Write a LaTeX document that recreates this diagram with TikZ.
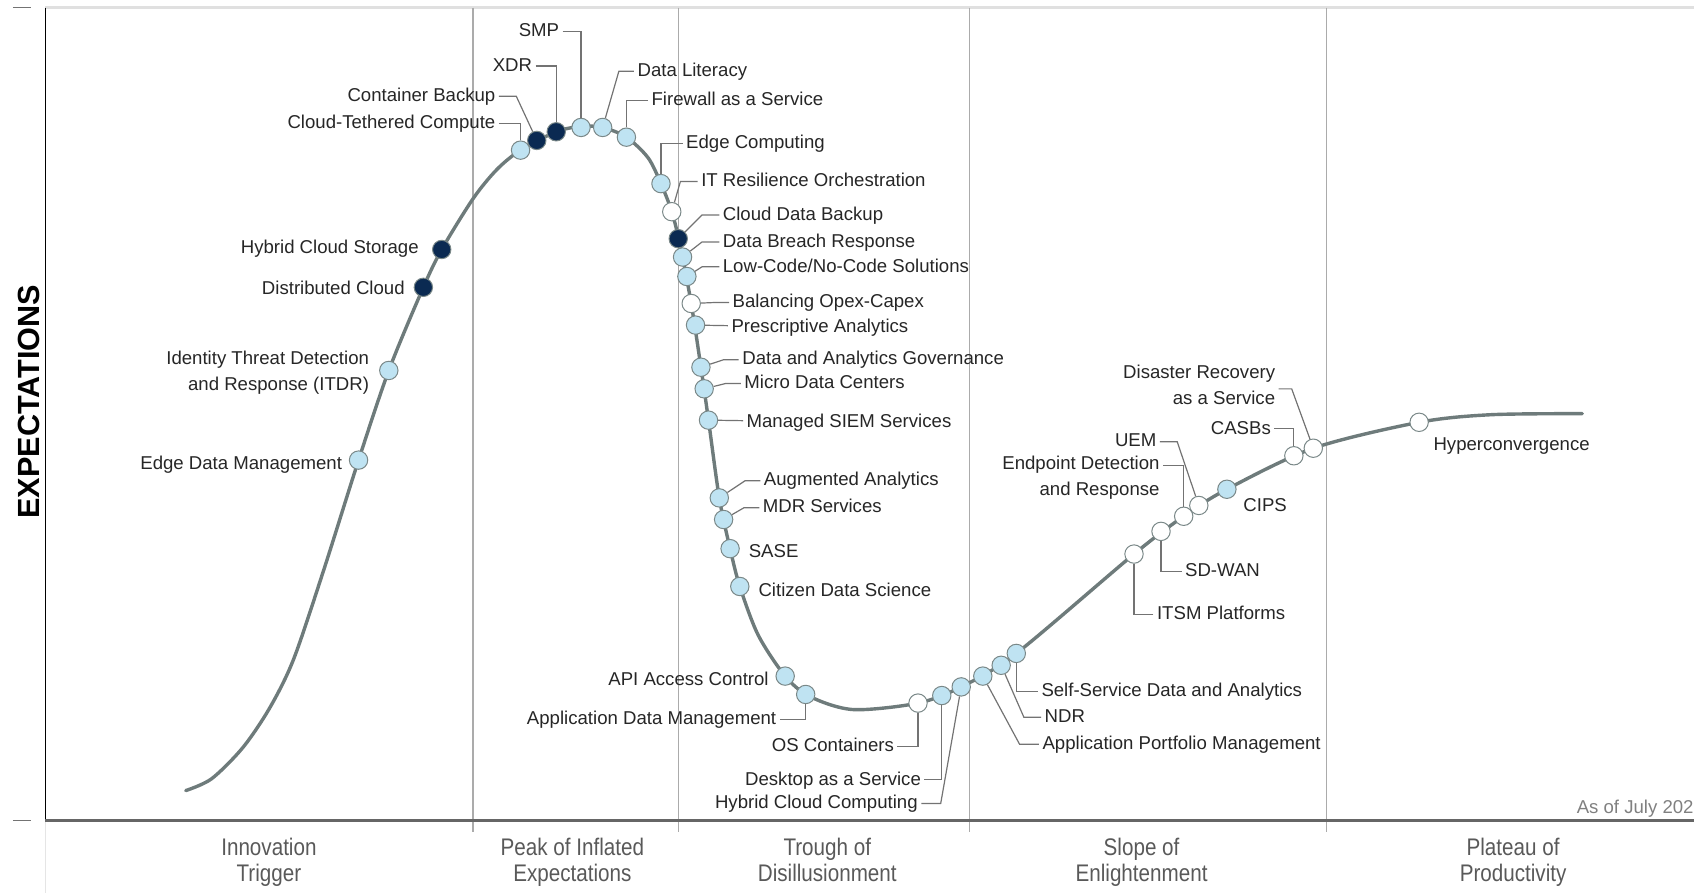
\documentclass[tikz,border=0pt]{standalone}
\usepackage{fontspec}
\setmainfont{Liberation Sans}
\newfontfamily\phasefont{Liberation Sans}[FakeStretch=0.86]
\usepackage{tikz}

\definecolor{hypegray}{HTML}{6E7B7B}
\definecolor{dotblue}{HTML}{BFE3F2}
\definecolor{dotnavy}{HTML}{0B2A52}
\definecolor{rimgray}{HTML}{7A8888}
\definecolor{sepgray}{HTML}{ABABAB}
\definecolor{txtgray}{HTML}{595959}

\tikzset{
  hype/.style={hypegray,line width=1.7pt,line cap=round},
  dot/.style={circle,draw=rimgray,line width=0.5pt,minimum size=9.2pt,inner sep=0pt},
  lbl/.style={inner sep=1.6pt,align=right,text=black!85,yshift=-1.1pt,
    font=\fontsize{9.3}{13}\selectfont,
    execute at begin node=\strut,execute at end node=\strut},
  leader/.style={gray!90!black,line width=0.6pt},
  phase/.style={align=center,text=txtgray,font=\phasefont\fontsize{12}{13}\selectfont,
    execute at begin node=\strut,execute at end node=\strut},
  sep/.style={sepgray,line width=0.6pt}
}

\begin{document}
\begin{tikzpicture}[x=0.54pt,y=-0.54pt]

\useasboundingbox (0,0) rectangle (1568.5,827);

% Frame, axes and phase separators
\draw [black!12,line width=1.1pt] (42,7) -- (1568.5,7);
\draw [black!55,line width=0.6pt] (12,7) -- (29,7);
\draw [black!55,line width=0.6pt] (12,760) -- (29,760);
\draw [black!10,line width=0.6pt] (42,760) -- (42,827);
\foreach \sx in {438,628,898,1228} {
  \draw [sep] (\sx,7) -- (\sx,770);
}
\draw [black,line width=0.6pt] (42,7) -- (42,760);
\draw [black!60,line width=1.4pt] (42,760) -- (1568.5,760);

\node [rotate=90,font=\bfseries\fontsize{15.3}{17}\selectfont] (yaxis) at (27,372) {EXPECTATIONS};
\node [anchor=east,inner sep=0pt,text=black!50,font=\fontsize{9.3}{13}\selectfont,
  execute at begin node=\strut] (asof) at (1568.5,748) {As of July 202};

% The hype curve
\draw [hype] plot [smooth,tension=0.5] coordinates {
  (172,732) (196,721) (225,692) (250,655) (272,610) (300,527)
  (332,426) (360,343) (392,266) (409,231) (438,184) (460,157) (482,139)
  (515,122) (538,117) (558,118) (580,127) (600,146) (612,170) (622,196)
  (630,228) (640,281) (649,340) (656,389) (666,461) (676,508) (685,543)
  (702,588) (727,626) (750,645) (790,657) (850,651) (890,636) (941,605)
  (1050,513) (1096,478) (1136,453) (1216,415) (1314,391) (1380,384) (1465,383)};

% Technology profiles on the curve
\foreach \nm/\x/\y/\col in {
  edm/332/426/dotblue, itdr/360/343/dotblue, dc/392/266/dotnavy,
  hcs/409/231/dotnavy, ctc/482/139/dotblue, cb/497/130/dotnavy,
  xdr/515/122/dotnavy, smp/538/118/dotblue, dl/558/118/dotblue,
  faas/580/127/dotblue, ec/612/170/dotblue, itro/622/196/white,
  cdb/628/221/dotnavy, dbr/632/238/dotblue, lcnc/636/256/dotblue,
  boc/640/281/white, pa/644/301/dotblue, dag/649/340/dotblue,
  mdc/652/360/dotblue, siem/656/389/dotblue, aa/666/461/dotblue,
  mdr/670/481/dotblue, sase/676/508/dotblue, cds/685/543/dotblue,
  api/727/626/dotblue, adm/746/643/dotblue, osc/850/651/white,
  daas/872/644/dotblue, hcc/890/636/dotblue, apm/910/626/dotblue,
  ndr/927/616/dotblue, ssda/941/605/dotblue, itsm/1050/513/white,
  sdwan/1075/492/white, edr/1096/478/white, uem/1110/468/white,
  cips/1136/453/dotblue, casb/1198/422/white, draas/1216/415/white,
  hyper/1314/391/white} {
  \node [dot,fill=\col] (d-\nm) at (\x,\y) {};
}

% Labels
\foreach \nm/\x/\y/\anc/\txt in {
  edm/320/428/east/{Edge Data Management},
  itdr/345/345/east/{Identity Threat Detection\\and Response (ITDR)},
  dc/378/266/east/{Distributed Cloud},
  hcs/391/228/east/{Hybrid Cloud Storage},
  ctc/462/112/east/{Cloud-Tethered Compute},
  cb/462/87/east/{Container Backup},
  xdr/496/59/east/{XDR},
  smp/521/27/east/{SMP},
  dl/587/64/west/{Data Literacy},
  faas/600/91/west/{Firewall as a Service},
  ec/632/131/west/{Edge Computing},
  itro/646/166/west/{IT Resilience Orchestration},
  cdb/666/197/west/{Cloud Data Backup},
  dbr/666/222/west/{Data Breach Response},
  lcnc/666/245/west/{Low-Code/No-Code Solutions},
  boc/675/278/west/{Balancing Opex-Capex},
  pa/674/301/west/{Prescriptive Analytics},
  dag/684/331/west/{Data and Analytics Governance},
  mdc/686/353/west/{Micro Data Centers},
  siem/688/389/west/{Managed SIEM Services},
  aa/704/443/west/{Augmented Analytics},
  mdr/703/468/west/{MDR Services},
  sase/690/509/west/{SASE},
  cds/699/545/west/{Citizen Data Science},
  api/715/628/east/{API Access Control},
  adm/722/664/east/{Application Data Management},
  osc/831/689/east/{OS Containers},
  daas/856/720/east/{Desktop as a Service},
  hcc/853/742/east/{Hybrid Cloud Computing},
  apm/962/687/west/{Application Portfolio Management},
  ndr/964/662/west/{NDR},
  ssda/961/638/west/{Self-Service Data and Analytics},
  itsm/1068/567/west/{ITSM Platforms},
  sdwan/1094/527/west/{SD-WAN},
  edr/1077/442/east/{Endpoint Detection\\and Response},
  uem/1074/407/east/{UEM},
  cips/1148/467/west/{CIPS},
  casb/1180/395/east/{CASBs},
  draas/1184/358/east/{Disaster Recovery\\as a Service},
  hyper/1324/410/west/{Hyperconvergence}} {
  \node [lbl,anchor=\anc] (l-\nm) at (\x,\y) {\txt};
}

% Leaders that turn one corner
\foreach \nm/\sd in {ctc/east, xdr/east, smp/east, faas/west, ec/west,
  adm/east, osc/east, daas/east, ssda/west, itsm/west, sdwan/west, casb/east} {
  \draw [leader] (l-\nm.\sd) -| (d-\nm);
}

% Leaders with a short stub and a slant
\foreach \nm/\sd/\dx in {cb/east/16, dl/west/-14, itro/west/-16, cdb/west/-16,
  dbr/west/-16, lcnc/west/-16, boc/west/-12, dag/west/-14, mdc/west/-14,
  aa/west/-14, mdr/west/-14, hcc/east/18, apm/west/-18, ndr/west/-16,
  uem/east/16, draas/east/12} {
  \draw [leader] (l-\nm.\sd) -- ++(\dx,0) -- (d-\nm);
}

% Straight leaders
\draw [leader] (l-pa) -- (d-pa);
\draw [leader] (l-siem) -- (d-siem);
\draw [leader] ([yshift=-6.5pt]l-edr.north east) -| (d-edr);

% Phase names along the bottom
\foreach \nm/\px/\txt in {
  trig/249/{Innovation\\Trigger},
  peak/530/{Peak of Inflated\\Expectations},
  trough/766/{Trough of\\Disillusionment},
  slope/1057/{Slope of\\Enlightenment},
  plat/1401/{Plateau of\\Productivity}} {
  \node [phase] (p-\nm) at (\px,800) {\txt};
}

\end{tikzpicture}
\end{document}
